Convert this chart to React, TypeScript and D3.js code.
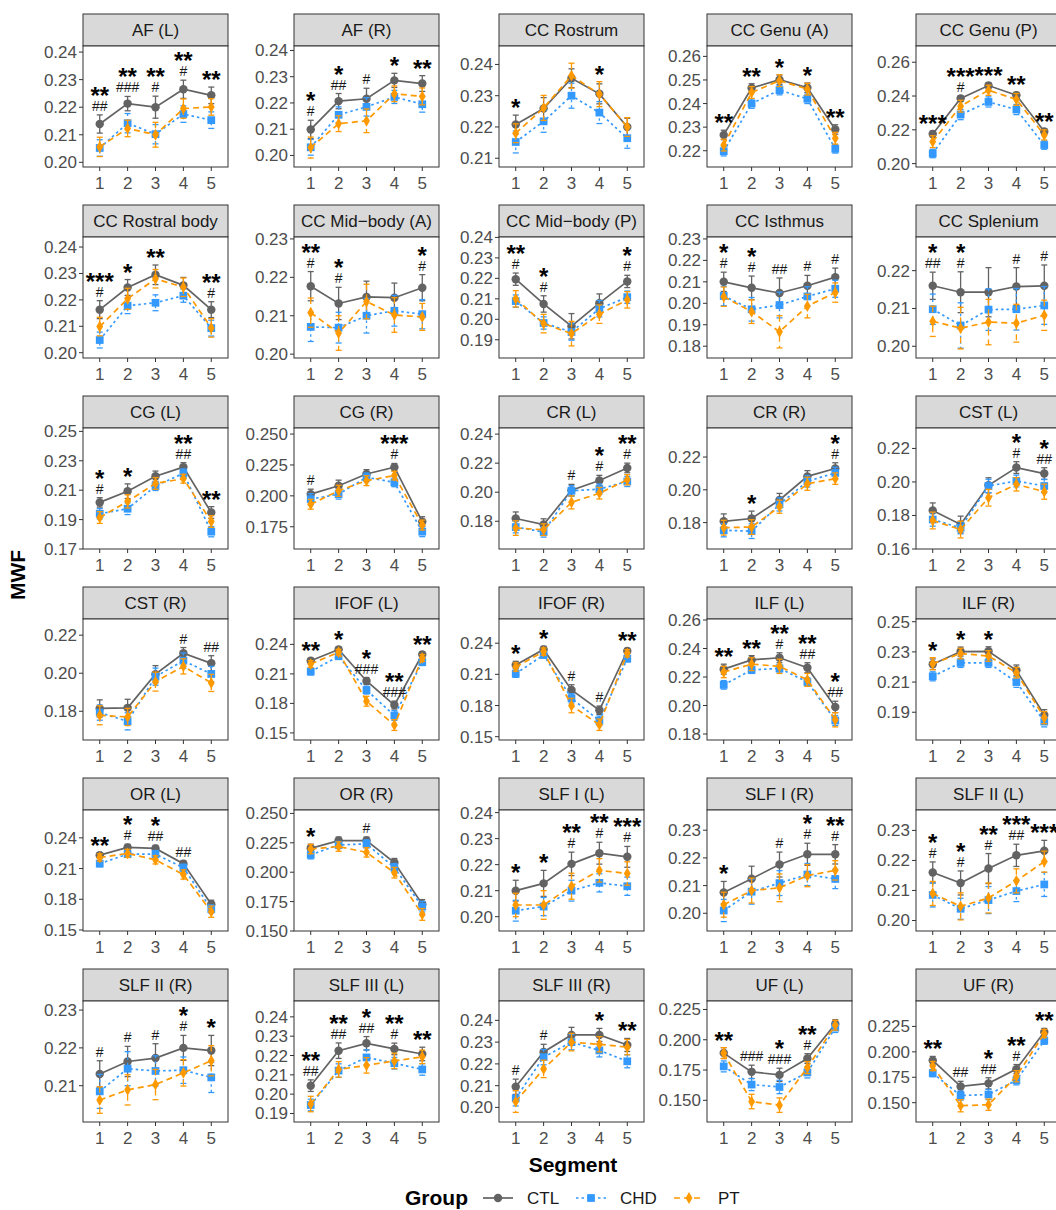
import React from "react";
import * as d3 from "d3";

// segments along each tract
const segments = [1, 2, 3, 4, 5];

const tracts = [
  "AF (L)", "AF (R)", "CC Rostrum", "CC Genu (A)", "CC Genu (P)",
  "CC Rostral body", "CC Mid\u2212body (A)", "CC Mid\u2212body (P)", "CC Isthmus", "CC Splenium",
  "CG (L)", "CG (R)", "CR (L)", "CR (R)", "CST (L)",
  "CST (R)", "IFOF (L)", "IFOF (R)", "ILF (L)", "ILF (R)",
  "OR (L)", "OR (R)", "SLF I (L)", "SLF I (R)", "SLF II (L)",
  "SLF II (R)", "SLF III (L)", "SLF III (R)", "UF (L)", "UF (R)",
];

const ctlMean = [
  [0.2139, 0.2213, 0.2200, 0.2265, 0.2243],
  [0.2099, 0.2207, 0.2216, 0.2286, 0.2274],
  [0.2208, 0.2259, 0.2356, 0.2306, 0.2200],
  [0.2267, 0.2466, 0.2501, 0.2467, 0.2290],
  [0.2175, 0.2385, 0.2462, 0.2405, 0.2190],
  [0.2163, 0.2247, 0.2295, 0.2255, 0.2163],
  [0.2177, 0.2132, 0.2149, 0.2147, 0.2173],
  [0.2196, 0.2075, 0.1966, 0.2079, 0.2185],
  [0.2100, 0.2072, 0.2048, 0.2082, 0.2122],
  [0.2160, 0.2143, 0.2143, 0.2158, 0.2160],
  [0.2017, 0.2093, 0.2195, 0.2257, 0.1948],
  [0.2014, 0.2082, 0.2177, 0.2232, 0.1791],
  [0.1819, 0.1777, 0.2014, 0.2081, 0.2167],
  [0.1808, 0.1825, 0.1938, 0.2082, 0.2130],
  [0.1830, 0.1746, 0.1980, 0.2086, 0.2050],
  [0.1815, 0.1818, 0.1995, 0.2105, 0.2052],
  [0.2234, 0.2348, 0.2028, 0.1783, 0.2297],
  [0.2190, 0.2340, 0.1950, 0.1755, 0.2325],
  [0.2255, 0.2320, 0.2335, 0.2265, 0.1990],
  [0.2218, 0.2302, 0.2304, 0.2178, 0.1882],
  [0.2231, 0.2307, 0.2297, 0.2148, 0.1751],
  [0.2203, 0.2269, 0.2269, 0.2082, 0.1727],
  [0.2100, 0.2128, 0.2203, 0.2244, 0.2230],
  [0.2075, 0.2125, 0.2176, 0.2213, 0.2213],
  [0.2160, 0.2125, 0.2173, 0.2217, 0.2232],
  [0.2131, 0.2164, 0.2173, 0.2200, 0.2193],
  [0.2044, 0.2225, 0.2263, 0.2234, 0.2208],
  [0.2095, 0.2255, 0.2333, 0.2333, 0.2287],
  [0.1890, 0.1735, 0.1710, 0.1845, 0.2130],
  [0.1915, 0.1660, 0.1690, 0.1830, 0.2195],
];

const chdMean = [
  [0.2052, 0.2142, 0.2102, 0.2175, 0.2153],
  [0.2031, 0.2155, 0.2185, 0.2223, 0.2195],
  [0.2152, 0.2218, 0.2300, 0.2246, 0.2164],
  [0.2198, 0.2400, 0.2457, 0.2420, 0.2208],
  [0.2060, 0.2290, 0.2365, 0.2320, 0.2110],
  [0.2048, 0.2178, 0.2189, 0.2216, 0.2093],
  [0.2071, 0.2069, 0.2100, 0.2113, 0.2104],
  [0.2089, 0.1982, 0.1938, 0.2052, 0.2108],
  [0.2034, 0.1972, 0.1992, 0.2032, 0.2068],
  [0.2098, 0.2055, 0.2097, 0.2098, 0.2108],
  [0.1940, 0.1974, 0.2128, 0.2215, 0.1818],
  [0.1973, 0.2014, 0.2150, 0.2109, 0.1710],
  [0.1760, 0.1726, 0.2010, 0.2021, 0.2074],
  [0.1753, 0.1748, 0.1911, 0.2052, 0.2103],
  [0.1776, 0.1726, 0.1976, 0.2006, 0.1976],
  [0.1793, 0.1747, 0.1982, 0.2066, 0.1996],
  [0.2124, 0.2279, 0.1935, 0.1677, 0.2220],
  [0.2106, 0.2287, 0.1870, 0.1654, 0.2251],
  [0.2145, 0.2250, 0.2260, 0.2165, 0.1895],
  [0.2138, 0.2227, 0.2227, 0.2100, 0.1838],
  [0.2148, 0.2241, 0.2241, 0.2108, 0.1705],
  [0.2148, 0.2232, 0.2241, 0.2039, 0.1707],
  [0.2023, 0.2039, 0.2100, 0.2130, 0.2117],
  [0.2010, 0.2078, 0.2109, 0.2140, 0.2124],
  [0.2085, 0.2039, 0.2068, 0.2098, 0.2120],
  [0.2085, 0.2145, 0.2139, 0.2141, 0.2122],
  [0.1944, 0.2122, 0.2190, 0.2160, 0.2128],
  [0.2042, 0.2231, 0.2300, 0.2262, 0.2212],
  [0.1780, 0.1630, 0.1610, 0.1730, 0.2100],
  [0.1790, 0.1570, 0.1580, 0.1720, 0.2110],
];

const ptMean = [
  [0.2056, 0.2123, 0.2100, 0.2195, 0.2201],
  [0.2030, 0.2121, 0.2132, 0.2235, 0.2225],
  [0.2180, 0.2261, 0.2364, 0.2305, 0.2200],
  [0.2224, 0.2447, 0.2497, 0.2461, 0.2253],
  [0.2130, 0.2340, 0.2434, 0.2380, 0.2170],
  [0.2099, 0.2204, 0.2280, 0.2248, 0.2094],
  [0.2108, 0.2055, 0.2137, 0.2102, 0.2097],
  [0.2100, 0.1979, 0.1930, 0.2025, 0.2095],
  [0.2031, 0.1961, 0.1867, 0.1987, 0.2050],
  [0.2066, 0.2048, 0.2064, 0.2061, 0.2082],
  [0.1914, 0.2024, 0.2146, 0.2178, 0.1887],
  [0.1932, 0.2041, 0.2123, 0.2164, 0.1764],
  [0.1753, 0.1742, 0.1930, 0.1993, 0.2086],
  [0.1769, 0.1773, 0.1897, 0.2037, 0.2068],
  [0.1770, 0.1716, 0.1906, 0.1986, 0.1942],
  [0.1779, 0.1770, 0.1956, 0.2036, 0.1949],
  [0.2200, 0.2320, 0.1822, 0.1580, 0.2262],
  [0.2171, 0.2319, 0.1800, 0.1615, 0.2303],
  [0.2235, 0.2290, 0.2275, 0.2180, 0.1900],
  [0.2222, 0.2289, 0.2273, 0.2162, 0.1864],
  [0.2208, 0.2248, 0.2185, 0.2042, 0.1679],
  [0.2197, 0.2218, 0.2169, 0.1996, 0.1641],
  [0.2045, 0.2045, 0.2117, 0.2178, 0.2166],
  [0.2031, 0.2082, 0.2092, 0.2136, 0.2155],
  [0.2090, 0.2047, 0.2075, 0.2132, 0.2196],
  [0.2062, 0.2089, 0.2103, 0.2134, 0.2166],
  [0.1949, 0.2128, 0.2149, 0.2172, 0.2193],
  [0.2027, 0.2177, 0.2300, 0.2290, 0.2277],
  [0.1890, 0.1490, 0.1460, 0.1770, 0.2120],
  [0.1860, 0.1470, 0.1480, 0.1760, 0.2180],
];

const ctlSe = [
  [0.0033, 0.0026, 0.0040, 0.0033, 0.0030],
  [0.0035, 0.0029, 0.0040, 0.0027, 0.0030],
  [0.0030, 0.0035, 0.0030, 0.0032, 0.0028],
  [0.0020, 0.0018, 0.0020, 0.0020, 0.0020],
  [0.0018, 0.0017, 0.0016, 0.0017, 0.0017],
  [0.0034, 0.0030, 0.0037, 0.0030, 0.0030],
  [0.0038, 0.0042, 0.0041, 0.0038, 0.0034],
  [0.0030, 0.0040, 0.0062, 0.0045, 0.0030],
  [0.0045, 0.0055, 0.0070, 0.0048, 0.0042],
  [0.0036, 0.0054, 0.0065, 0.0050, 0.0055],
  [0.0032, 0.0050, 0.0035, 0.0030, 0.0040],
  [0.0040, 0.0045, 0.0035, 0.0030, 0.0040],
  [0.0045, 0.0040, 0.0040, 0.0035, 0.0033],
  [0.0045, 0.0045, 0.0040, 0.0035, 0.0035],
  [0.0045, 0.0050, 0.0045, 0.0035, 0.0035],
  [0.0045, 0.0045, 0.0045, 0.0030, 0.0040],
  [0.0025, 0.0025, 0.0035, 0.0040, 0.0025],
  [0.0035, 0.0030, 0.0050, 0.0040, 0.0025],
  [0.0035, 0.0030, 0.0035, 0.0035, 0.0040],
  [0.0035, 0.0030, 0.0030, 0.0035, 0.0035],
  [0.0025, 0.0030, 0.0030, 0.0030, 0.0040],
  [0.0035, 0.0030, 0.0030, 0.0035, 0.0040],
  [0.0040, 0.0050, 0.0045, 0.0042, 0.0040],
  [0.0040, 0.0045, 0.0045, 0.0040, 0.0035],
  [0.0035, 0.0040, 0.0050, 0.0037, 0.0035],
  [0.0035, 0.0040, 0.0038, 0.0033, 0.0040],
  [0.0030, 0.0040, 0.0035, 0.0030, 0.0035],
  [0.0035, 0.0035, 0.0035, 0.0030, 0.0030],
  [0.0045, 0.0055, 0.0055, 0.0040, 0.0035],
  [0.0040, 0.0050, 0.0055, 0.0045, 0.0035],
];

const chdSe = [
  [0.0030, 0.0035, 0.0035, 0.0030, 0.0030],
  [0.0030, 0.0030, 0.0035, 0.0025, 0.0030],
  [0.0035, 0.0035, 0.0040, 0.0035, 0.0032],
  [0.0020, 0.0020, 0.0020, 0.0020, 0.0018],
  [0.0025, 0.0030, 0.0030, 0.0030, 0.0025],
  [0.0030, 0.0030, 0.0030, 0.0025, 0.0030],
  [0.0038, 0.0040, 0.0045, 0.0040, 0.0038],
  [0.0030, 0.0030, 0.0040, 0.0040, 0.0030],
  [0.0045, 0.0055, 0.0060, 0.0045, 0.0040],
  [0.0040, 0.0060, 0.0055, 0.0055, 0.0050],
  [0.0035, 0.0040, 0.0030, 0.0030, 0.0035],
  [0.0045, 0.0040, 0.0035, 0.0035, 0.0040],
  [0.0040, 0.0035, 0.0035, 0.0035, 0.0035],
  [0.0040, 0.0045, 0.0040, 0.0035, 0.0035],
  [0.0040, 0.0035, 0.0040, 0.0035, 0.0040],
  [0.0040, 0.0045, 0.0045, 0.0040, 0.0040],
  [0.0035, 0.0030, 0.0040, 0.0050, 0.0035],
  [0.0035, 0.0030, 0.0045, 0.0045, 0.0030],
  [0.0030, 0.0025, 0.0025, 0.0030, 0.0035],
  [0.0030, 0.0030, 0.0030, 0.0035, 0.0035],
  [0.0030, 0.0030, 0.0035, 0.0035, 0.0040],
  [0.0035, 0.0030, 0.0035, 0.0035, 0.0045],
  [0.0040, 0.0035, 0.0040, 0.0035, 0.0035],
  [0.0040, 0.0045, 0.0045, 0.0040, 0.0035],
  [0.0040, 0.0035, 0.0045, 0.0035, 0.0040],
  [0.0045, 0.0045, 0.0040, 0.0035, 0.0040],
  [0.0030, 0.0035, 0.0040, 0.0030, 0.0030],
  [0.0035, 0.0035, 0.0035, 0.0030, 0.0030],
  [0.0045, 0.0050, 0.0055, 0.0045, 0.0040],
  [0.0035, 0.0045, 0.0050, 0.0045, 0.0035],
];

const ptSe = [
  [0.0035, 0.0030, 0.0045, 0.0035, 0.0030],
  [0.0040, 0.0030, 0.0045, 0.0030, 0.0032],
  [0.0030, 0.0040, 0.0040, 0.0040, 0.0030],
  [0.0025, 0.0025, 0.0025, 0.0025, 0.0025],
  [0.0035, 0.0035, 0.0030, 0.0035, 0.0030],
  [0.0035, 0.0040, 0.0035, 0.0035, 0.0035],
  [0.0038, 0.0045, 0.0045, 0.0045, 0.0035],
  [0.0040, 0.0045, 0.0060, 0.0045, 0.0040],
  [0.0045, 0.0055, 0.0075, 0.0055, 0.0045],
  [0.0040, 0.0055, 0.0060, 0.0050, 0.0040],
  [0.0040, 0.0045, 0.0040, 0.0030, 0.0040],
  [0.0040, 0.0045, 0.0040, 0.0035, 0.0040],
  [0.0050, 0.0040, 0.0045, 0.0040, 0.0035],
  [0.0045, 0.0045, 0.0040, 0.0040, 0.0035],
  [0.0050, 0.0050, 0.0050, 0.0040, 0.0045],
  [0.0050, 0.0045, 0.0050, 0.0040, 0.0045],
  [0.0035, 0.0030, 0.0050, 0.0055, 0.0035],
  [0.0040, 0.0035, 0.0070, 0.0055, 0.0035],
  [0.0040, 0.0045, 0.0050, 0.0045, 0.0050],
  [0.0040, 0.0035, 0.0035, 0.0035, 0.0040],
  [0.0035, 0.0040, 0.0040, 0.0045, 0.0055],
  [0.0040, 0.0040, 0.0040, 0.0045, 0.0050],
  [0.0045, 0.0055, 0.0050, 0.0045, 0.0045],
  [0.0045, 0.0045, 0.0050, 0.0040, 0.0035],
  [0.0040, 0.0045, 0.0050, 0.0040, 0.0035],
  [0.0035, 0.0040, 0.0040, 0.0035, 0.0040],
  [0.0040, 0.0040, 0.0040, 0.0040, 0.0035],
  [0.0050, 0.0040, 0.0040, 0.0035, 0.0035],
  [0.0045, 0.0060, 0.0060, 0.0050, 0.0040],
  [0.0045, 0.0060, 0.0055, 0.0055, 0.0040],
];

// significance marks above each segment
const stars = [
  ["**", "**", "**", "**", "**"],
  ["*", "*", "", "*", "**"],
  ["*", "", "", "*", ""],
  ["**", "**", "*", "*", "**"],
  ["***", "***", "***", "**", "**"],
  ["***", "*", "**", "", "**"],
  ["**", "*", "", "", "*"],
  ["**", "*", "", "", "*"],
  ["*", "*", "", "", ""],
  ["*", "*", "", "", ""],
  ["*", "*", "", "**", "**"],
  ["", "", "", "***", ""],
  ["", "", "", "*", "**"],
  ["", "*", "", "", "*"],
  ["", "", "", "*", "*"],
  ["", "", "", "", ""],
  ["**", "*", "*", "**", "**"],
  ["*", "*", "", "", "**"],
  ["**", "**", "**", "**", "*"],
  ["*", "*", "*", "", ""],
  ["**", "*", "*", "", ""],
  ["*", "", "", "", ""],
  ["*", "*", "**", "**", "***"],
  ["*", "", "", "*", "**"],
  ["*", "*", "**", "***", "***"],
  ["", "", "", "*", "*"],
  ["**", "**", "*", "**", "**"],
  ["", "", "", "*", "**"],
  ["**", "", "*", "**", ""],
  ["**", "", "*", "**", "**"],
];

const hashes = [
  ["##", "###", "#", "#", ""],
  ["#", "##", "#", "", ""],
  ["", "", "", "", ""],
  ["", "", "", "", ""],
  ["", "#", "", "", ""],
  ["#", "", "", "", "#"],
  ["#", "#", "", "", "#"],
  ["#", "#", "", "", "#"],
  ["#", "#", "##", "#", "#"],
  ["##", "#", "", "#", "#"],
  ["#", "", "", "##", ""],
  ["#", "", "", "#", ""],
  ["", "", "#", "#", "#"],
  ["", "", "", "", "#"],
  ["", "", "", "#", "##"],
  ["", "", "", "#", "##"],
  ["", "", "###", "###", ""],
  ["", "", "#", "#", ""],
  ["", "", "#", "##", "##"],
  ["", "", "", "", ""],
  ["", "#", "##", "##", ""],
  ["", "", "#", "", ""],
  ["", "", "#", "#", "#"],
  ["", "", "#", "#", "#"],
  ["#", "#", "#", "##", ""],
  ["#", "#", "#", "#", ""],
  ["##", "##", "##", "#", ""],
  ["#", "#", "", "", ""],
  ["", "###", "###", "#", ""],
  ["", "##", "##", "#", ""],
];

const yTicks = [
  [0.20, 0.21, 0.22, 0.23, 0.24],
  [0.20, 0.21, 0.22, 0.23, 0.24],
  [0.21, 0.22, 0.23, 0.24],
  [0.22, 0.23, 0.24, 0.25, 0.26],
  [0.20, 0.22, 0.24, 0.26],
  [0.20, 0.21, 0.22, 0.23, 0.24],
  [0.20, 0.21, 0.22, 0.23],
  [0.19, 0.20, 0.21, 0.22, 0.23, 0.24],
  [0.18, 0.19, 0.20, 0.21, 0.22, 0.23],
  [0.20, 0.21, 0.22],
  [0.17, 0.19, 0.21, 0.23, 0.25],
  [0.175, 0.200, 0.225, 0.250],
  [0.18, 0.20, 0.22, 0.24],
  [0.18, 0.20, 0.22],
  [0.16, 0.18, 0.20, 0.22],
  [0.18, 0.20, 0.22],
  [0.15, 0.18, 0.21, 0.24],
  [0.15, 0.18, 0.21, 0.24],
  [0.18, 0.20, 0.22, 0.24, 0.26],
  [0.19, 0.21, 0.23, 0.25],
  [0.15, 0.18, 0.21, 0.24],
  [0.150, 0.175, 0.200, 0.225, 0.250],
  [0.20, 0.21, 0.22, 0.23, 0.24],
  [0.20, 0.21, 0.22, 0.23],
  [0.20, 0.21, 0.22, 0.23],
  [0.21, 0.22, 0.23],
  [0.19, 0.20, 0.21, 0.22, 0.23, 0.24],
  [0.20, 0.21, 0.22, 0.23, 0.24],
  [0.150, 0.175, 0.200, 0.225],
  [0.150, 0.175, 0.200, 0.225],
];

const yRange = [
  [0.1983, 0.2422], [0.1956, 0.2417], [0.2072, 0.2459], [0.2131, 0.2644], [0.1980, 0.2696],
  [0.1980, 0.2438], [0.1990, 0.2305], [0.1811, 0.2402], [0.1745, 0.2309], [0.1969, 0.2289],
  [0.1700, 0.2523], [0.1570, 0.2549], [0.1609, 0.2442], [0.1639, 0.2377], [0.1600, 0.2322],
  [0.1649, 0.2285], [0.1428, 0.2658], [0.1468, 0.2633], [0.1758, 0.2607], [0.1716, 0.2518],
  [0.1490, 0.2672], [0.1500, 0.2529], [0.1945, 0.2410], [0.1936, 0.2373], [0.1965, 0.2368],
  [0.2004, 0.2324], [0.1856, 0.2482], [0.1933, 0.2489], [0.1321, 0.2320], [0.1310, 0.2500],
];

const groupNames = ["CTL", "CHD", "PT"];

const FONT = "'Liberation Sans', Arial, Helvetica, sans-serif";
const COL_X = [83, 294, 499, 707, 916];
const ROW_Y = [14, 205, 396, 587, 778, 969];
const PW = 145;
const STRIP_H = 32;
const PH = 121;

const groupStyle = {
  CTL: { color: "#636363", dash: undefined, shape: d3.symbolCircle, size: 56 },
  CHD: { color: "#3399FF", dash: "2.5,3", shape: d3.symbolSquare, size: 60 },
  PT: { color: "#FF9900", dash: "6,4", shape: d3.symbolDiamond, size: 40 },
};

const groupData = {
  CTL: { mean: ctlMean, se: ctlSe },
  CHD: { mean: chdMean, se: chdSe },
  PT: { mean: ptMean, se: ptSe },
};

function Panel({ idx }: { idx: number }) {
  const col = idx % 5;
  const row = Math.floor(idx / 5);
  const x0 = COL_X[col];
  const top = ROW_Y[row] + STRIP_H;

  const x = d3.scalePoint<number>().domain(segments).range([x0, x0 + PW]).padding(0.6);
  const y = d3.scaleLinear().domain(yRange[idx]).range([top + PH, top]);
  const ticks = yTicks[idx];
  const three = ticks.some((t) => Math.abs(t * 100 - Math.round(t * 100)) > 1e-6);
  const fmt = d3.format(three ? ".3f" : ".2f");

  const line = d3
    .line<number>()
    .x((_, i) => x(segments[i]) as number)
    .y((d) => y(d));

  return (
    <g>
      <rect x={x0} y={ROW_Y[row]} width={PW} height={STRIP_H} fill="#D9D9D9" stroke="#333" strokeWidth={1} />
      <text x={x0 + PW / 2} y={ROW_Y[row] + 22} textAnchor="middle" fontSize={17} fill="#1A1A1A">
        {tracts[idx]}
      </text>
      <rect x={x0} y={top} width={PW} height={PH} fill="#fff" stroke="none" />

      {ticks.map((t) => (
        <g key={t}>
          <line x1={x0 - 4} x2={x0} y1={y(t)} y2={y(t)} stroke="#333" strokeWidth={1} />
          <text x={x0 - 6} y={y(t) + 6} textAnchor="end" fontSize={17} fill="#4D4D4D">
            {fmt(t)}
          </text>
        </g>
      ))}
      {segments.map((s) => (
        <g key={s}>
          <line x1={x(s)} x2={x(s)} y1={top + PH} y2={top + PH + 4} stroke="#333" strokeWidth={1} />
          <text x={x(s)} y={top + PH + 22} textAnchor="middle" fontSize={17} fill="#4D4D4D">
            {s}
          </text>
        </g>
      ))}

      {groupNames.map((g) => {
        const st = groupStyle[g];
        const m = groupData[g].mean[idx];
        const se = groupData[g].se[idx];
        const sym = d3.symbol().type(st.shape).size(st.size)();
        return (
          <g key={g}>
            {m.map((v, i) => {
              const cx = x(segments[i]) as number;
              const y1 = y(v + se[i]);
              const y2 = y(v - se[i]);
              return (
                <g key={i} stroke={st.color} strokeWidth={1.3}>
                  <line x1={cx} x2={cx} y1={y1} y2={y2} strokeDasharray={st.dash} />
                  <line x1={cx - 3} x2={cx + 3} y1={y1} y2={y1} />
                  <line x1={cx - 3} x2={cx + 3} y1={y2} y2={y2} />
                </g>
              );
            })}
            <path d={line(m) || ""} fill="none" stroke={st.color} strokeWidth={1.7} strokeDasharray={st.dash} />
            {m.map((v, i) => (
              <path key={i} d={sym || ""} transform={`translate(${x(segments[i])},${y(v)})`} fill={st.color} />
            ))}
          </g>
        );
      })}

      <rect x={x0} y={top} width={PW} height={PH} fill="none" stroke="#333" strokeWidth={1} />

      {segments.map((s, i) => {
        // labels sit just above the highest error bar of the segment
        const anchor = Math.min(
          ...groupNames.map((g) => y(groupData[g].mean[idx][i] + groupData[g].se[idx][i]))
        );
        const h = hashes[idx][i];
        const st = stars[idx][i];
        const hashBase = anchor - 4;
        const starBase = h ? anchor - 11 : anchor + 1;
        return (
          <g key={s}>
            {h && (
              <text x={x(s)} y={hashBase} textAnchor="middle" fontSize={14} fill="#1A1A1A">
                {h}
              </text>
            )}
            {st && (
              <text x={x(s)} y={starBase} textAnchor="middle" fontSize={24} fontWeight="bold" fill="#000">
                {st}
              </text>
            )}
          </g>
        );
      })}
    </g>
  );
}

function LegendKey({ g, x0, y0 }: { g: string; x0: number; y0: number }) {
  const st = groupStyle[g];
  const sym = d3.symbol().type(st.shape).size(st.size)();
  return (
    <g>
      <line x1={x0} x2={x0 + 30} y1={y0} y2={y0} stroke={st.color} strokeWidth={1.7} strokeDasharray={st.dash} />
      <path d={sym || ""} transform={`translate(${x0 + 15},${y0})`} fill={st.color} />
      <text x={x0 + 44} y={y0 + 6} fontSize={17} fill="#1A1A1A">
        {g}
      </text>
    </g>
  );
}

export default function App() {
  return (
    <svg
      width={1056}
      height={1210}
      style={{ position: "absolute", left: 0, top: 0, display: "block", background: "#fff" }}
      fontFamily={FONT}
    >
      <rect width={1056} height={1210} fill="#fff" />
      {tracts.map((_, i) => (
        <Panel key={i} idx={i} />
      ))}
      <text transform="translate(25,575) rotate(-90)" textAnchor="middle" fontSize={21} fontWeight="bold" fill="#000">
        MWF
      </text>
      <text x={573} y={1172} textAnchor="middle" fontSize={21} fontWeight="bold" fill="#000">
        Segment
      </text>
      <text x={405} y={1205} fontSize={21} fontWeight="bold" fill="#000">
        Group
      </text>
      {groupNames.map((g, i) => (
        <LegendKey key={g} g={g} x0={[483, 576, 674][i]} y0={1198} />
      ))}
    </svg>
  );
}
